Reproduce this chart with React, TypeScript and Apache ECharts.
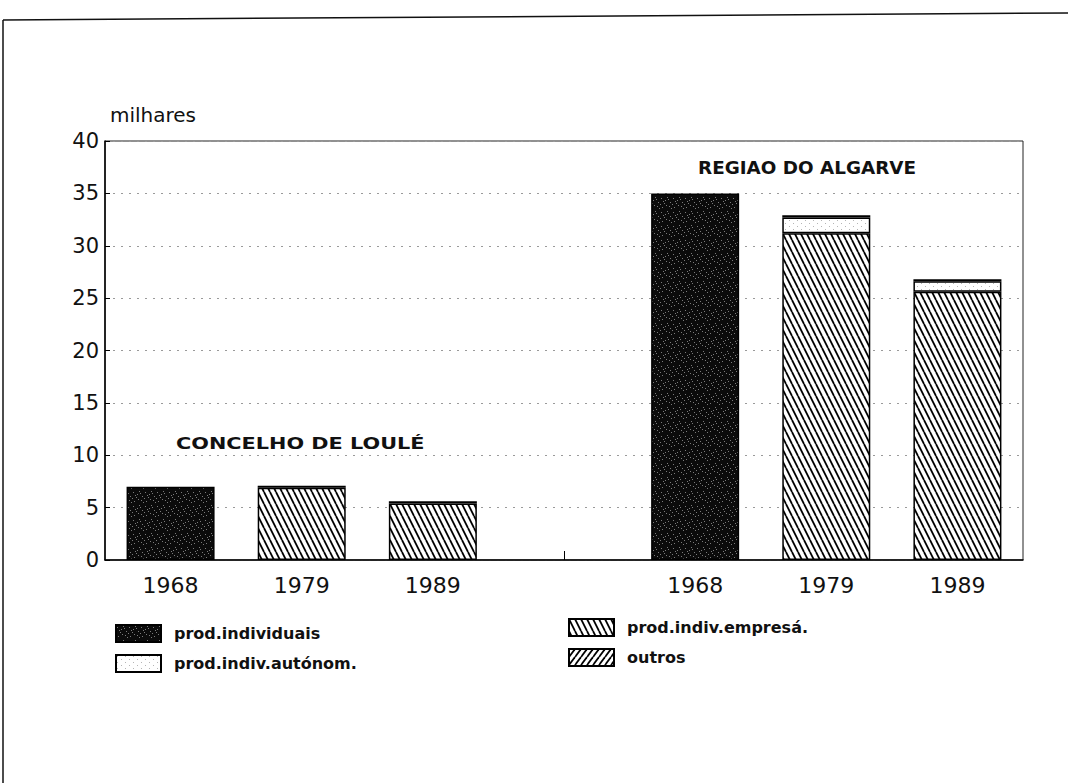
import React, { useEffect, useRef } from "react";
import * as echarts from "echarts";

const categories = ["1968", "1979", "1989", "", "1968", "1979", "1989"];
const individuais = [7.0, "-", "-", "-", 35.0, "-", "-"];
const empresa = ["-", 6.9, 5.4, "-", "-", 31.2, 25.6];
const autonom = ["-", 0.2, 0.2, "-", "-", 1.5, 1.0];
const outros = ["-", "-", "-", "-", "-", 0.2, 0.2];
const yTicks = [0, 5, 10, 15, 20, 25, 30, 35, 40];
const seriesNames = ["prod.individuais", "prod.indiv.empresá.", "prod.indiv.autónom.", "outros"];
const groupLabels = ["CONCELHO DE LOULÉ", "REGIAO DO ALGARVE"];
const unitLabel = "milhares";

function makeCanvas(w: number, h: number, draw: (c: CanvasRenderingContext2D) => void) {
  const cv = document.createElement("canvas");
  cv.width = w;
  cv.height = h;
  const ctx = cv.getContext("2d")!;
  draw(ctx);
  return cv;
}

const speckle: [number, number][] = [
  [1, 2], [4, 7], [8, 3], [6, 9], [2, 11], [10, 6], [11, 12], [5, 4], [9, 10], [0, 8], [7, 1], [3, 5],
];

function patterns() {
  const indiv = makeCanvas(12, 14, (c) => {
    c.fillStyle = "#0b0b0b";
    c.fillRect(0, 0, 12, 14);
    c.fillStyle = "#7a7a7a";
    speckle.forEach(([x, y]) => c.fillRect(x, y, 1, 1));
  });
  const auto = makeCanvas(8, 6, (c) => {
    c.fillStyle = "#ffffff";
    c.fillRect(0, 0, 8, 6);
    c.fillStyle = "#b5b5b5";
    c.fillRect(1, 1, 1, 1);
    c.fillRect(5, 4, 1, 1);
  });
  const back = makeCanvas(6, 12, (c) => {
    c.fillStyle = "#ffffff";
    c.fillRect(0, 0, 6, 12);
    c.strokeStyle = "#000";
    c.lineWidth = 1.8;
    [-6, 0, 6].forEach((o) => {
      c.beginPath();
      c.moveTo(o, 0);
      c.lineTo(o + 6, 12);
      c.stroke();
    });
  });
  const fwd = makeCanvas(6, 8, (c) => {
    c.fillStyle = "#ffffff";
    c.fillRect(0, 0, 6, 8);
    c.strokeStyle = "#000";
    c.lineWidth = 1.8;
    [-6, 0, 6].forEach((o) => {
      c.beginPath();
      c.moveTo(o + 6, 0);
      c.lineTo(o, 8);
      c.stroke();
    });
  });
  return { indiv, auto, back, fwd };
}

export default function App() {
  const ref = useRef<HTMLDivElement>(null);
  useEffect(() => {
    document.body.style.margin = "0";
    const chart = echarts.init(ref.current!, null, { renderer: "svg" });
    const p = patterns();
    const fills = [p.indiv, p.back, p.auto, p.fwd];
    const data = [individuais, empresa, autonom, outros];
    const font = "DejaVu Sans";
    const series = seriesNames.map((name, i) => ({
      name,
      type: "bar",
      stack: "t",
      barWidth: 88,
      data: data[i],
      itemStyle: {
        color: { image: fills[i], repeat: "repeat" },
        borderColor: "#000",
        borderWidth: 1.5,
      },
    }));
    const legendCommon = {
      orient: "vertical",
      itemWidth: 45,
      itemHeight: 17,
      itemGap: 11,
      icon: "rect",
      textStyle: { fontFamily: font, fontWeight: "bold", fontSize: 16, color: "#111", padding: [0, 0, 0, 8] },
    };
    chart.setOption({
      animation: false,
      backgroundColor: "#fff",
      grid: { left: 105, right: 45, top: 141, bottom: 223, show: true, borderColor: "#222", borderWidth: 1 },
      xAxis: {
        type: "category",
        data: categories,
        axisLine: { lineStyle: { color: "#000", width: 1.5 } },
        axisTick: { show: true, inside: true, alignWithLabel: true, length: 9, interval: (i: number) => i === 3, lineStyle: { color: "#000" } },
        axisLabel: { fontFamily: font, fontSize: 22, color: "#111", margin: 14 },
      },
      yAxis: {
        type: "value",
        min: yTicks[0],
        max: yTicks[yTicks.length - 1],
        interval: 5,
        axisLine: { show: true, lineStyle: { color: "#000", width: 1.5 } },
        axisTick: { show: true, inside: true, length: 5, lineStyle: { color: "#000" } },
        axisLabel: { fontFamily: font, fontSize: 21, color: "#111", margin: 6 },
        splitLine: { show: true, lineStyle: { color: "#9a9a9a", width: 1, type: [2, 6] } },
      },
      legend: [
        { ...legendCommon, left: 110, top: 619, data: [seriesNames[0], seriesNames[2]] },
        { ...legendCommon, left: 563, top: 613, data: [seriesNames[1], seriesNames[3]] },
      ],
      graphic: [
        { type: "line", shape: { x1: 3, y1: 20, x2: 1068, y2: 13 }, style: { stroke: "#111", lineWidth: 1.5 } },
        { type: "line", shape: { x1: 3, y1: 20, x2: 3, y2: 783 }, style: { stroke: "#111", lineWidth: 1.5 } },
        { type: "text", left: 110, top: 105, style: { text: unitLabel, font: `20px "${font}"`, fill: "#111" } },
        { type: "text", x: 176, y: 435, scaleX: 1.3, style: { text: groupLabels[0], font: `bold 16px "${font}"`, fill: "#111" } },
        { type: "text", x: 698, y: 160, scaleX: 1.08, style: { text: groupLabels[1], font: `bold 17px "${font}"`, fill: "#111" } },
      ],
      series,
    });
    return () => chart.dispose();
  }, []);
  return <div ref={ref} style={{ position: "absolute", left: 0, top: 0, width: 1068, height: 783 }} />;
}
